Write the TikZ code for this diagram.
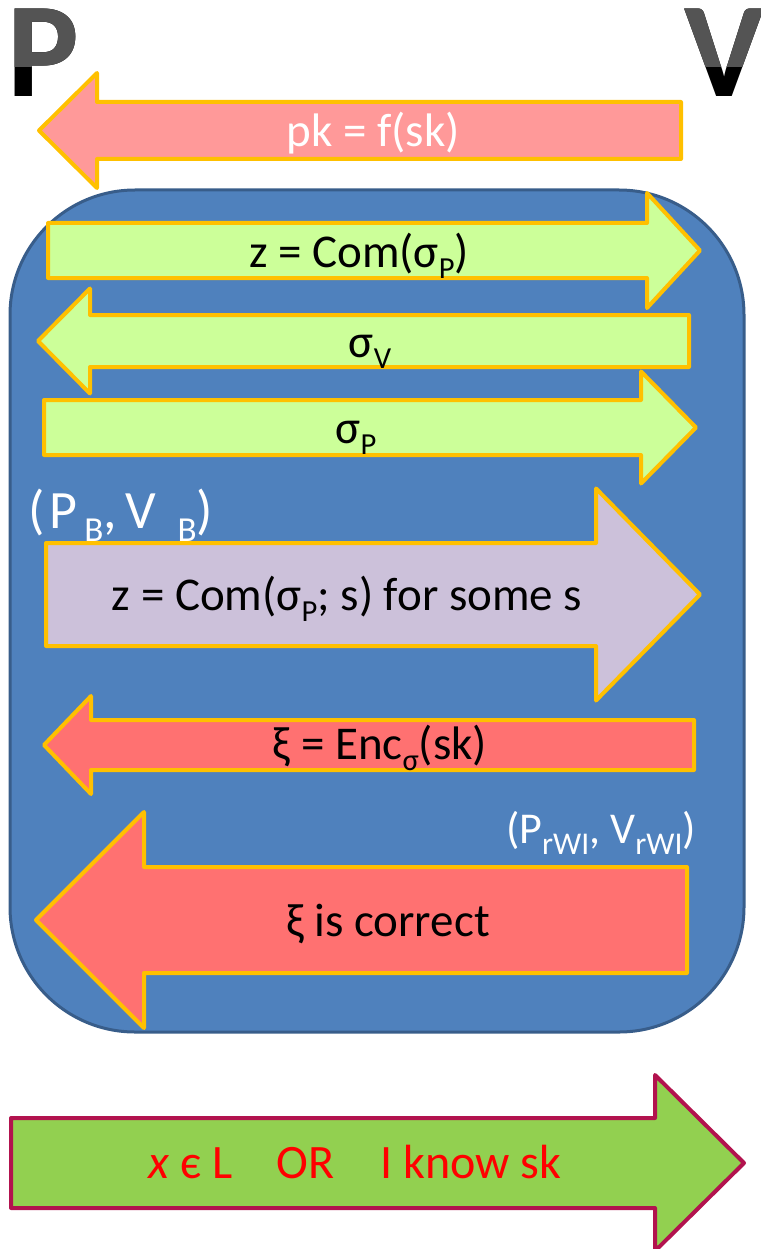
\documentclass[tikz,border=0pt]{standalone}
\usepackage{fontspec}
\setmainfont{Carlito}
\usepackage{xcolor}
\usepackage{graphicx}
\usepackage{tikz}
\usetikzlibrary{positioning}
\definecolor{gold}{HTML}{FFC000}
\definecolor{pkpink}{HTML}{FF9999}
\definecolor{lime}{HTML}{CCFF99}
\definecolor{lilac}{HTML}{CCC1DA}
\definecolor{salmon}{HTML}{FF7171}
\definecolor{panelblue}{HTML}{4F81BD}
\definecolor{paneledge}{HTML}{385D8A}
\definecolor{claimgreen}{HTML}{92D050}
\definecolor{claimedge}{HTML}{B2134E}
% block arrow: style, tail x, centre y, half body, head base x, half head, tip x
\newcommand{\blockarrow}[7]{%
  \draw[#1] (#2,#3-#4) -- (#5,#3-#4) -- (#5,#3-#6) -- (#7,#3)
    -- (#5,#3+#6) -- (#5,#3+#4) -- (#2,#3+#4) -- cycle;}
% lowered, shrunk index as the slides set it
\newcommand{\idx}[2][0.65]{\raisebox{-0.25em}{\scalebox{#1}{#2}}}

\begin{document}
\begin{tikzpicture}[
  x=1pt, y=-1pt,
  party/.style={font=\fontsize{135}{135}\selectfont\bfseries, inner sep=0pt, anchor=base west},
  msgarrow/.style={draw=gold, line width=4pt, line join=round},
  panel/.style={draw=paneledge, line width=3pt, fill=panelblue, rounded corners=125pt},
  msg/.style={font=\fontsize{47}{50}\selectfont, inner sep=0pt, anchor=base},
  tag/.style={font=\fontsize{54}{56}\selectfont, inner sep=0pt, text=white},
]
\useasboundingbox (0,0) rectangle (760,1249);

%% ---- parties ---------------------------------------------------------------
\node[party] (prover) at (7,97) {P};
\node[party] (verifier) at (684,97) {V};
\begin{scope}
  \clip (0,0) rectangle (760,67);
  \node[party, text=black!67] (proverTop) at (7,97) {P};
  \node[party, text=black!67] (verifierTop) at (684,97) {V};
\end{scope}

%% ---- public key --------------------------------------------------------------
\blockarrow{msgarrow, fill=pkpink}{681}{130.5}{28.5}{97}{57.5}{39}
\node[msg, text=white] (pk) at (373,147) {pk = f(sk)};

%% ---- the protocol panel --------------------------------------------------------
\draw[panel] (10,190) rectangle (744,1032);

\blockarrow{msgarrow, fill=lime}{48}{250.5}{27.5}{647}{57.5}{700}
\node[msg] (commit) at (359,267) {z = Com(σ\idx{P})};

\blockarrow{msgarrow, fill=lime}{689}{341}{26}{90}{52.5}{38}
\node[msg] (sigmaV) at (370,357) {σ\idx{V}};

\blockarrow{msgarrow, fill=lime}{44}{427.5}{27.5}{641}{56}{696}
\node[msg] (sigmaP) at (356,443) {σ\idx{P}};

%% ---- (P_B, V_B) ------------------------------------------------------------------
\node[tag, anchor=base west] (pbvb) at (28,528)
  {(\hspace{5pt}P\hspace{7pt}\idx{B},\hspace{8pt}V\hspace{22pt}\idx{B})};
\blockarrow{msgarrow, fill=lilac}{46}{594.5}{51.5}{596}{106}{700}
\node[msg] (opening) at (347,610) {z = Com(σ\idx{P}; s) for some s};

\blockarrow{msgarrow, fill=salmon}{694}{745}{25}{91}{49}{44}
\node[msg] (enc) at (380,759) {ξ = Enc\idx{σ}(sk)};

%% ---- (P_rWI, V_rWI) ----------------------------------------------------------------
\node[tag, font=\fontsize{44}{46}\selectfont, anchor=base east] (rwi) at (696,843)
  {(P\idx[0.72]{rWI}, V\idx[0.72]{rWI})};
\blockarrow{msgarrow, fill=salmon}{687}{920}{53}{144}{108}{36}
\node[msg] (correct) at (388,936) {ξ is correct};

%% ---- the statement proved ------------------------------------------------------------
\blockarrow{draw=claimedge, line width=4pt, line join=round, fill=claimgreen}{11}{1163}{45}{655}{88}{744}
\node[msg, font=\fontsize{48}{50}\selectfont, text=red, anchor=base west] (claim) at (148,1178)
  {\textit{x} є L\hspace{44pt}OR\hspace{46pt}I know sk};

\end{tikzpicture}
\end{document}
